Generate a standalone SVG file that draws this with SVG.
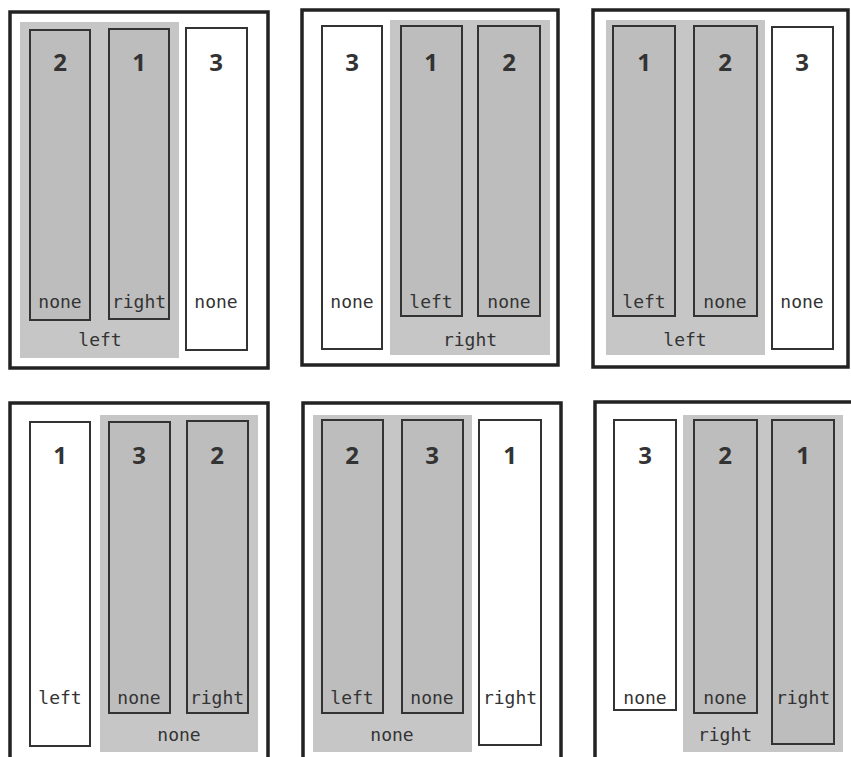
<svg xmlns="http://www.w3.org/2000/svg" width="851" height="757" viewBox="0 0 851 757">
<style>
.frame{fill:#fff;stroke:#222;stroke-width:3.5}
.area{fill:#c6c6c6}
.col{fill:#bdbdbd;stroke:#333;stroke-width:2}
.wcol{fill:#fff;stroke:#333;stroke-width:2}
.num{font-family:"Open Sans","DejaVu Sans",sans-serif;font-weight:bold;font-size:24px;fill:#333;text-anchor:middle}
.lbl{font-family:"DejaVu Sans Mono","Liberation Mono",monospace;font-size:18px;fill:#333;text-anchor:middle}
</style>
<rect width="851" height="757" fill="#fff"/>
<g id="panel1">
<rect class="frame" x="10" y="12" width="258" height="356"/>
<rect class="area" x="20" y="22" width="159" height="336"/>
<text class="lbl" x="100" y="346">left</text>
<g id="p1-c2"><rect class="col" x="30" y="30" width="60" height="290"/><text class="num" x="60" y="71">2</text><text class="lbl" x="60" y="308">none</text></g>
<g id="p1-c1"><rect class="col" x="109" y="29" width="60" height="290"/><text class="num" x="139" y="71">1</text><text class="lbl" x="139" y="308">right</text></g>
<g id="p1-c3"><rect class="wcol" x="186" y="28" width="61" height="322"/><text class="num" x="216" y="71">3</text><text class="lbl" x="216" y="308">none</text></g>
</g>
<g id="panel2">
<rect class="frame" x="302" y="10" width="256" height="355"/>
<rect class="area" x="390" y="20" width="160" height="335"/>
<text class="lbl" x="470" y="346">right</text>
<g id="p2-c3"><rect class="wcol" x="322" y="26" width="60" height="323"/><text class="num" x="352" y="71">3</text><text class="lbl" x="352" y="308">none</text></g>
<g id="p2-c1"><rect class="col" x="401" y="26" width="61" height="290"/><text class="num" x="431" y="71">1</text><text class="lbl" x="431" y="308">left</text></g>
<g id="p2-c2"><rect class="col" x="478" y="26" width="62" height="290"/><text class="num" x="509" y="71">2</text><text class="lbl" x="509" y="308">none</text></g>
</g>
<g id="panel3">
<rect class="frame" x="593" y="10" width="255" height="357"/>
<rect class="area" x="606" y="20" width="159" height="335"/>
<text class="lbl" x="685" y="346">left</text>
<g id="p3-c1"><rect class="col" x="613" y="26" width="62" height="290"/><text class="num" x="644" y="71">1</text><text class="lbl" x="644" y="308">left</text></g>
<g id="p3-c2"><rect class="col" x="694" y="26" width="63" height="290"/><text class="num" x="725" y="71">2</text><text class="lbl" x="725" y="308">none</text></g>
<g id="p3-c3"><rect class="wcol" x="772" y="27" width="61" height="322"/><text class="num" x="802" y="71">3</text><text class="lbl" x="802" y="308">none</text></g>
</g>
<g id="panel4">
<rect class="frame" x="10" y="403" width="258" height="362"/>
<rect class="area" x="100" y="415" width="158" height="337"/>
<text class="lbl" x="179" y="741">none</text>
<g id="p4-c1"><rect class="wcol" x="30" y="422" width="60" height="324"/><text class="num" x="60" y="464">1</text><text class="lbl" x="60" y="704">left</text></g>
<g id="p4-c3"><rect class="col" x="109" y="422" width="61" height="291"/><text class="num" x="139" y="464">3</text><text class="lbl" x="139" y="704">none</text></g>
<g id="p4-c2"><rect class="col" x="187" y="421" width="61" height="292"/><text class="num" x="217" y="464">2</text><text class="lbl" x="217" y="704">right</text></g>
</g>
<g id="panel5">
<rect class="frame" x="303" y="403" width="258" height="362"/>
<rect class="area" x="313" y="415" width="159" height="337"/>
<text class="lbl" x="392" y="741">none</text>
<g id="p5-c2"><rect class="col" x="322" y="420" width="61" height="293"/><text class="num" x="352" y="464">2</text><text class="lbl" x="352" y="704">left</text></g>
<g id="p5-c3"><rect class="col" x="402" y="420" width="61" height="293"/><text class="num" x="432" y="464">3</text><text class="lbl" x="432" y="704">none</text></g>
<g id="p5-c1"><rect class="wcol" x="479" y="420" width="62" height="325"/><text class="num" x="510" y="464">1</text><text class="lbl" x="510" y="704">right</text></g>
</g>
<g id="panel6">
<rect class="frame" x="595" y="402" width="262" height="363"/>
<rect class="area" x="683" y="415" width="160" height="337"/>
<text class="lbl" x="725" y="741">right</text>
<g id="p6-c3"><rect class="wcol" x="614" y="420" width="62" height="290"/><text class="num" x="645" y="464">3</text><text class="lbl" x="645" y="704">none</text></g>
<g id="p6-c2"><rect class="col" x="694" y="420" width="63" height="293"/><text class="num" x="725" y="464">2</text><text class="lbl" x="725" y="704">none</text></g>
<g id="p6-c1"><rect class="col" x="772" y="420" width="62" height="324"/><text class="num" x="803" y="464">1</text><text class="lbl" x="803" y="704">right</text></g>
</g>
</svg>
